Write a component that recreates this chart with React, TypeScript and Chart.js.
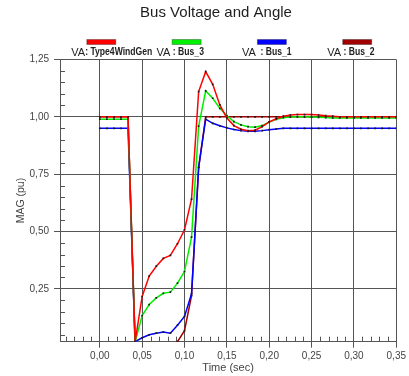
import React, { useEffect, useRef } from 'react';
import { Chart, registerables } from 'chart.js';

Chart.register(...registerables);

// Time samples (s)
const times = [
  0, 0.0083, 0.0167, 0.025, 0.0333, 0.0417, 0.05, 0.0583, 0.0667, 0.075,
  0.0833, 0.0917, 0.1, 0.1083, 0.1167, 0.125, 0.1333, 0.1417, 0.15, 0.1583,
  0.1667, 0.175, 0.1833, 0.1917, 0.2, 0.2083, 0.2167, 0.225, 0.2333, 0.2417,
  0.25, 0.2583, 0.2667, 0.275, 0.2833, 0.2917, 0.3, 0.3083, 0.3167, 0.325,
  0.3333, 0.3417, 0.35,
];

const type4WindGen = [
  1.0, 1.0, 1.0, 1.0, 1.0, 0.02, 0.217, 0.306, 0.349, 0.383,
  0.396, 0.447, 0.508, 0.641, 1.11, 1.197, 1.142, 1.052, 0.995, 0.962,
  0.946, 0.94, 0.942, 0.957, 0.978, 0.992, 1.003, 1.008, 1.01, 1.01,
  1.01, 1.008, 1.005, 1.003, 1.0, 1.0, 1.0, 1.0, 1.0, 1.0,
  1.0, 1.0, 1.0,
];

const bus3 = [
  0.99, 0.99, 0.99, 0.99, 0.99, 0.02, 0.134, 0.182, 0.211, 0.231,
  0.236, 0.275, 0.326, 0.476, 0.96, 1.113, 1.081, 1.037, 1.005, 0.979,
  0.965, 0.957, 0.955, 0.962, 0.977, 0.989, 0.996, 0.999, 1.0, 1.0,
  0.999, 0.998, 0.997, 0.995, 0.995, 0.995, 0.995, 0.995, 0.995, 0.995,
  0.995, 0.995, 0.995,
];

const bus1 = [
  0.95, 0.95, 0.95, 0.95, 0.95, 0.02, 0.037, 0.05, 0.057, 0.062,
  0.057, 0.092, 0.13, 0.229, 0.78, 0.99, 0.972, 0.961, 0.952, 0.945,
  0.94, 0.937, 0.937, 0.94, 0.944, 0.947, 0.95, 0.95, 0.95, 0.95,
  0.95, 0.95, 0.95, 0.95, 0.95, 0.95, 0.95, 0.95, 0.95, 0.95,
  0.95, 0.95, 0.95,
];

const bus2 = [
  1.0, 1.0, 1.0, 1.0, 1.0, 0.0, 0.0, 0.0, 0.0, 0.0,
  0.0, 0.02, 0.068, 0.221, 0.78, 1.0, 1.0, 1.0, 1.0, 1.0,
  1.0, 1.0, 1.0, 1.0, 1.0, 1.0, 1.0, 1.0, 1.0, 1.0,
  1.0, 1.0, 1.0, 1.0, 1.0, 1.0, 1.0, 1.0, 1.0, 1.0,
  1.0, 1.0, 1.0,
];

const seriesNames = ['Type4WindGen', 'Bus_3', 'Bus_1', 'Bus_2'];
const legendSeparators = [': ', ' : ', '  : ', ' : '];
const seriesColors = ['#ff0000', '#00ee00', '#0000ff', '#a00000'];
const seriesValues = [type4WindGen, bus3, bus1, bus2];

const xTickValues = [0, 0.05, 0.1, 0.15, 0.2, 0.25, 0.3, 0.35];
const yTickValues = [0.25, 0.5, 0.75, 1.0, 1.25];
const xMinorStep = 0.01;
const yMinorStep = 0.05;

const chartTitle = 'Bus Voltage and Angle';
const xAxisTitle = 'Time (sec)';
const yAxisTitle = 'MAG (pu)';
const legendPrefix = 'VA';

const FONT = '"Liberation Sans", Arial, sans-serif';
const GRID = '#555555';
const TEXT = '#444444';

const fmt = (v: number) => Number(v).toFixed(2).replace('.', ',');

const decorPlugin = {
  id: 'decor',
  beforeDatasetsDraw(chart: any) {
    const { ctx, chartArea, scales } = chart;
    const { left, bottom } = chartArea;
    const x = scales.x;
    const y = scales.y;
    ctx.save();
    ctx.strokeStyle = GRID;
    ctx.lineWidth = 1;
    ctx.beginPath();
    const xs = Math.ceil(x.min / xMinorStep);
    const xe = Math.floor(x.max / xMinorStep);
    for (let i = xs; i <= xe; i++) {
      if (i % 5 === 0) continue;
      const px = Math.round(x.getPixelForValue(i * xMinorStep)) + 0.5;
      ctx.moveTo(px, bottom);
      ctx.lineTo(px, bottom - 5);
    }
    const ys = Math.ceil(y.min / yMinorStep);
    const ye = Math.floor(y.max / yMinorStep);
    for (let i = ys; i <= ye; i++) {
      if (i % 5 === 0) continue;
      const py = Math.round(y.getPixelForValue(i * yMinorStep)) + 0.5;
      ctx.moveTo(left, py);
      ctx.lineTo(left + 5, py);
    }
    ctx.stroke();
    ctx.restore();
  },
  afterDraw(chart: any) {
    const { ctx } = chart;
    ctx.save();
    ctx.fillStyle = '#1e1e1e';
    ctx.font = `15px ${FONT}`;
    ctx.textAlign = 'center';
    ctx.textBaseline = 'middle';
    ctx.fillText(chartTitle, 216, 13);

    seriesNames.forEach((name, i) => {
      const cx = 101.3 + i * 85.3;
      ctx.fillStyle = seriesColors[i];
      ctx.fillRect(cx - 14.5, 39.5, 29, 5);
      ctx.strokeStyle = 'rgba(0,0,0,0.3)';
      ctx.lineWidth = 1;
      ctx.strokeRect(cx - 14.5, 39.5, 29, 5);

      const tx = cx - 30;
      ctx.fillStyle = '#222';
      ctx.textAlign = 'left';
      ctx.textBaseline = 'middle';
      ctx.font = `11px ${FONT}`;
      ctx.fillText(legendPrefix, tx, 52.5);
      const w = ctx.measureText(legendPrefix).width;
      ctx.font = `bold 10px ${FONT}`;
      const rest = legendSeparators[i] + name;
      const natural = ctx.measureText(rest).width;
      ctx.fillText(rest, tx + w, 52, natural * 0.86);
    });
    ctx.restore();
  },
};

export default function App() {
  const canvasRef = useRef<HTMLCanvasElement | null>(null);

  useEffect(() => {
    if (!canvasRef.current) return;
    const chart = new Chart(canvasRef.current, {
      type: 'line',
      data: {
        datasets: seriesNames.map((name, i) => ({
          label: name,
          data: times.map((t, k) => ({ x: t, y: seriesValues[i][k] })),
          borderColor: seriesColors[i],
          backgroundColor: seriesColors[i],
          borderWidth: 1.5,
          pointRadius: 1.2,
          pointStyle: 'rect',
          pointBackgroundColor: '#1a1a1a',
          pointBorderWidth: 0,
          tension: 0,
          fill: false,
        })),
      },
      options: {
        responsive: false,
        animation: false,
        layout: { padding: { top: 59.5, right: 9, left: 0, bottom: 0 } },
        plugins: {
          legend: { display: false },
          title: { display: false },
          tooltip: { enabled: false },
        },
        scales: {
          x: {
            type: 'linear',
            min: -0.047,
            max: 0.35,
            afterBuildTicks: (s: any) => {
              s.ticks = xTickValues.map((v) => ({ value: v }));
            },
            afterFit: (s: any) => {
              s.height = 34.3;
            },
            grid: { color: GRID, lineWidth: 1, tickLength: 6, drawTicks: true },
            border: { color: GRID, width: 1 },
            ticks: {
              font: { size: 10, family: FONT },
              color: TEXT,
              padding: 3,
              maxRotation: 0,
              autoSkip: false,
              callback: (v: any) => fmt(v),
            },
            title: {
              display: true,
              text: xAxisTitle,
              font: { size: 11, family: FONT },
              color: TEXT,
              padding: { top: 0, bottom: 1 },
            },
          },
          y: {
            type: 'linear',
            min: 0.02,
            max: 1.25,
            afterBuildTicks: (s: any) => {
              s.ticks = yTickValues.map((v) => ({ value: v }));
            },
            afterFit: (s: any) => {
              s.width = 60;
            },
            grid: { color: GRID, lineWidth: 1, tickLength: 6, drawTicks: true },
            border: { color: GRID, width: 1 },
            ticks: {
              font: { size: 10, family: FONT },
              color: TEXT,
              padding: 5,
              autoSkip: false,
              callback: (v: any) => fmt(v),
            },
            title: {
              display: true,
              text: yAxisTitle,
              font: { size: 10.5, family: FONT },
              color: TEXT,
              padding: { top: 15, bottom: 0 },
            },
          },
        },
      },
      plugins: [decorPlugin],
    } as any);
    return () => chart.destroy();
  }, []);

  return (
    <div
      style={{
        position: 'fixed',
        left: 0,
        top: 0,
        width: 409,
        height: 376,
        background: '#ffffff',
      }}
    >
      <canvas ref={canvasRef} width={409} height={376} />
    </div>
  );
}
